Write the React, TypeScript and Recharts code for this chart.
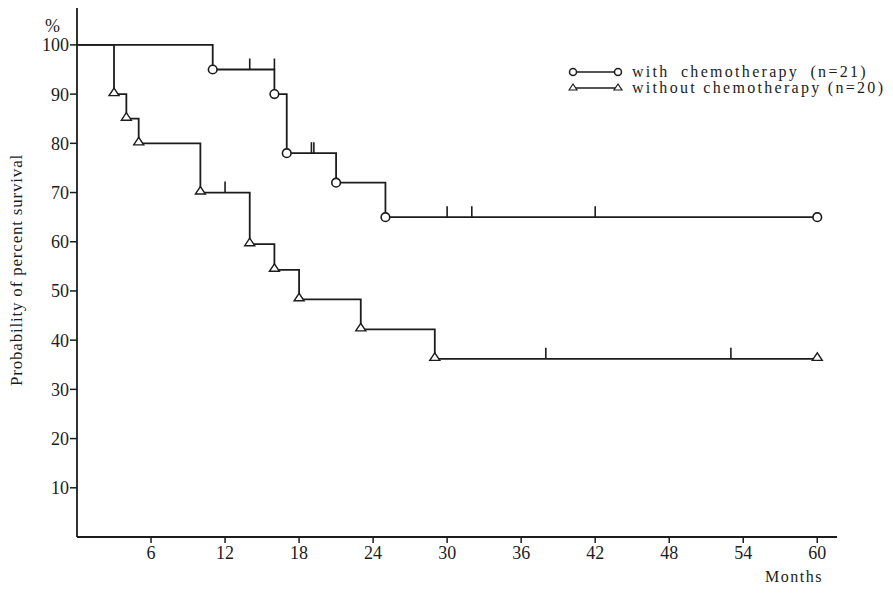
import { ComposedChart, Line, Scatter, XAxis, YAxis, Legend } from "recharts";

const monthTicks = [6, 12, 18, 24, 30, 36, 42, 48, 54, 60];
const percentTicks = [10, 20, 30, 40, 50, 60, 70, 80, 90, 100];

// with chemotherapy (n=21): step drops
const withTimes = [0, 11, 16, 17, 21, 25, 60];
const withSurv = [100, 95, 90, 78, 72, 65, 65];
// censored cases
const withCensorTimes = [14, 16, 19, 19.2, 30, 32, 42];
const withCensorSurv = [95, 95, 78, 78, 65, 65, 65];

// without chemotherapy (n=20)
const withoutTimes = [0, 3, 4, 5, 10, 14, 16, 18, 23, 29, 60];
const withoutSurv = [100, 90, 85, 80, 70, 59.5, 54.3, 48.3, 42.2, 36.2, 36.2];
const withoutCensorTimes = [12, 38, 53];
const withoutCensorSurv = [70, 36.2, 36.2];

const seriesNames = ["with chemotherapy (n=21)", "without chemotherapy (n=20)"];

const withData = withTimes.map((t, i) => ({ t, s: withSurv[i] }));
const withoutData = withoutTimes.map((t, i) => ({ t, s: withoutSurv[i] }));
const withCensor = withCensorTimes.map((t, i) => ({ t, s: withCensorSurv[i] }));
const withoutCensor = withoutCensorTimes.map((t, i) => ({ t, s: withoutCensorSurv[i] }));

const ink = "#1c1c1c";
const serif = "'Liberation Serif', 'DejaVu Serif', serif";

function circleDot(props: any) {
  const { cx, cy, index } = props;
  if (index === 0) return <g key={`c${index}`} />;
  return (
    <circle key={`c${index}`} cx={cx} cy={cy} r={4.3} fill="#fff" stroke={ink} strokeWidth={1.6} />
  );
}

function triangleDot(props: any) {
  const { cx, cy, index } = props;
  if (index === 0) return <g key={`t${index}`} />;
  return (
    <polygon
      key={`t${index}`}
      points={`${cx},${cy - 6} ${cx - 5},${cy + 1.5} ${cx + 5},${cy + 1.5}`}
      fill="#fff"
      stroke={ink}
      strokeWidth={1.4}
    />
  );
}

function CensorTick(props: any) {
  const { cx, cy } = props;
  return <line x1={cx} x2={cx} y1={cy} y2={cy - 11} stroke={ink} strokeWidth={1.6} />;
}

function LegendBox() {
  return (
    <div
      style={{
        fontFamily: serif,
        fontSize: 16,
        letterSpacing: 2.3,
        color: ink,
        whiteSpace: "nowrap",
        lineHeight: "16px",
      }}
    >
      {seriesNames.map((name, i) => (
        <div key={name} style={{ display: "flex", alignItems: "center", height: 16 }}>
          <svg width={56} height={14} style={{ marginRight: 8, flexShrink: 0 }}>
            <line x1={5} x2={50} y1={7} y2={7} stroke={ink} strokeWidth={1.6} />
            {i === 0 ? (
              <>
                <circle cx={5} cy={7} r={3.5} fill="#fff" stroke={ink} strokeWidth={1.5} />
                <circle cx={50} cy={7} r={3.5} fill="#fff" stroke={ink} strokeWidth={1.5} />
              </>
            ) : (
              <>
                <polygon points="5,3 1,9 9,9" fill="#fff" stroke={ink} strokeWidth={1.2} />
                <polygon points="50,3 46,9 54,9" fill="#fff" stroke={ink} strokeWidth={1.2} />
              </>
            )}
          </svg>
          <span style={{ wordSpacing: i === 0 ? 5 : 0 }}>{name}</span>
        </div>
      ))}
    </div>
  );
}

export default function App() {
  const tickStyle = { fill: ink, fontFamily: serif, fontSize: 18 };
  return (
    <div style={{ position: "absolute", left: 0, top: 0, width: 893, height: 594, background: "#fff" }}>
      <ComposedChart width={893} height={594} margin={{ top: 8, right: 56, bottom: 0, left: 0 }}>
        <XAxis
          type="number"
          dataKey="t"
          domain={[0, 61.6]}
          ticks={monthTicks}
          height={57}
          tick={tickStyle}
          tickSize={6}
          tickMargin={3}
          axisLine={{ stroke: ink, strokeWidth: 1.8 }}
          tickLine={{ stroke: ink, strokeWidth: 1.5 }}
        />
        <YAxis
          type="number"
          dataKey="s"
          domain={[0, 107.5]}
          ticks={percentTicks}
          width={77}
          tick={tickStyle}
          tickSize={7}
          tickMargin={1}
          axisLine={{ stroke: ink, strokeWidth: 1.8 }}
          tickLine={{ stroke: ink, strokeWidth: 1.5 }}
        />
        <Legend
          layout="vertical"
          align="center"
          verticalAlign="middle"
          content={() => <LegendBox />}
          wrapperStyle={{ left: 568, top: 64, width: 325 }}
        />
        <Line
          data={withData}
          dataKey="s"
          type="stepAfter"
          stroke={ink}
          strokeWidth={1.8}
          dot={circleDot}
          isAnimationActive={false}
        />
        <Line
          data={withoutData}
          dataKey="s"
          type="stepAfter"
          stroke={ink}
          strokeWidth={1.8}
          dot={triangleDot}
          isAnimationActive={false}
        />
        <Scatter data={withCensor} dataKey="s" shape={CensorTick} isAnimationActive={false} />
        <Scatter data={withoutCensor} dataKey="s" shape={CensorTick} isAnimationActive={false} />
      </ComposedChart>
      <div style={{ position: "absolute", left: 45, top: 16, fontFamily: serif, fontSize: 18, color: ink }}>%</div>
      <div
        style={{
          position: "absolute",
          left: 17 - 160,
          top: 270 - 11,
          width: 320,
          textAlign: "center",
          transform: "rotate(-90deg)",
          fontFamily: serif,
          fontSize: 17,
          letterSpacing: 0.8,
          color: ink,
          lineHeight: "22px",
        }}
      >
        Probability of percent survival
      </div>
      <div
        style={{
          position: "absolute",
          right: 893 - 823,
          top: 568,
          fontFamily: serif,
          fontSize: 16,
          letterSpacing: 1.5,
          color: ink,
        }}
      >
        Months
      </div>
    </div>
  );
}
